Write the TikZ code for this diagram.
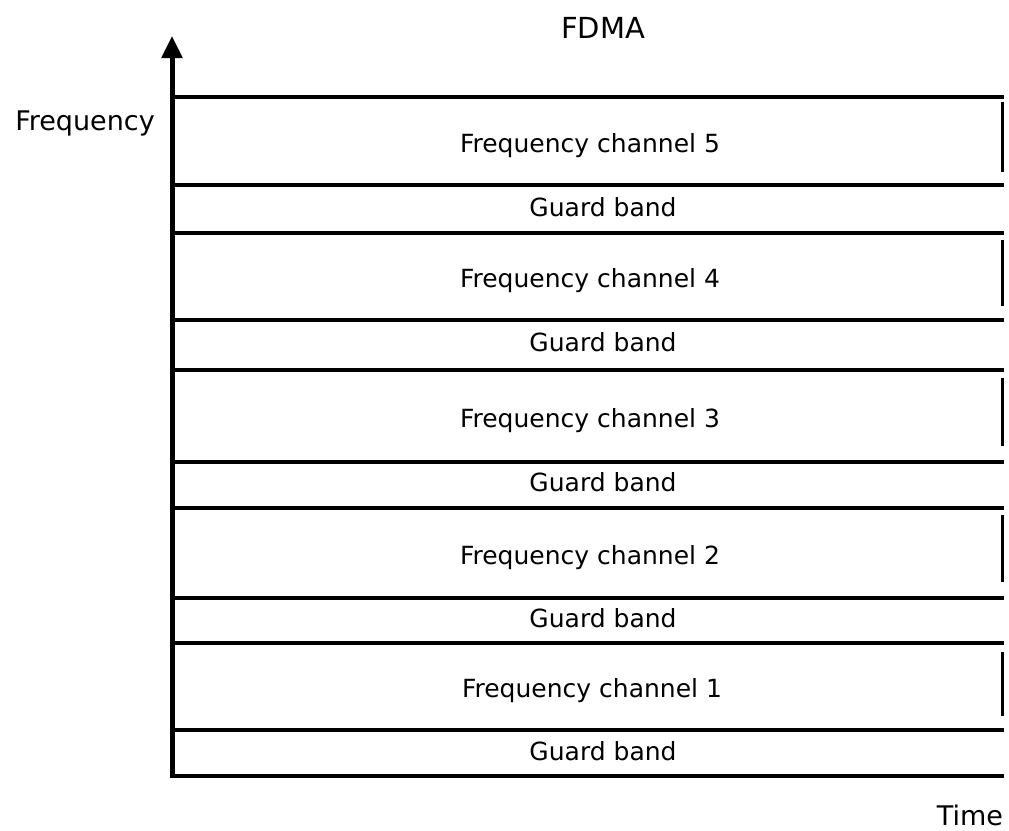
\documentclass[tikz,border=0pt]{standalone}
\usepackage{fontspec}
\setmainfont{DejaVu Sans}
\usetikzlibrary{arrows.meta}
\begin{document}
\begin{tikzpicture}[x=1pt,y=-1pt,
  boundary/.style={line width=4pt},
  edgemark/.style={line width=3pt},
  axisline/.style={line width=5pt,-{Triangle[width=20pt,length=22pt]}},
  chlabel/.style={anchor=base,inner sep=0pt,font=\fontsize{25}{30}\selectfont},
  gblabel/.style={anchor=base,inner sep=0pt,font=\fontsize{25}{30}\selectfont},
  title/.style={anchor=base,inner sep=0pt,font=\fontsize{29}{34}\selectfont},
  axislabel/.style={anchor=base,inner sep=0pt,font=\fontsize{27}{32}\selectfont}]
\useasboundingbox (0,0) rectangle (1009,830);

% band boundaries, from the frequency axis to the right edge
\foreach \y in {97,185,233,320,370,462,508,598,643,730,776}
  \draw[boundary] (171,\y) -- (1004,\y);

% short right-hand edges of the channel bands
\foreach \a/\b in {102/172,240/306,378/446,515/582,652/716}
  \draw[edgemark] (1002,\a) -- (1002,\b);

% frequency axis
\coordinate (origin) at (172,778);
\coordinate (ytop) at (172,36);
\draw[axisline] (origin) -- (ytop);

% channel and guard band labels
\node[chlabel] (ch5) at (590,152) {Frequency channel 5};
\node[gblabel] (g5)  at (603,216) {Guard band};
\node[chlabel] (ch4) at (590,287) {Frequency channel 4};
\node[gblabel] (g4)  at (603,351) {Guard band};
\node[chlabel] (ch3) at (590,427) {Frequency channel 3};
\node[gblabel] (g3)  at (603,491) {Guard band};
\node[chlabel] (ch2) at (590,564) {Frequency channel 2};
\node[gblabel] (g2)  at (603,627) {Guard band};
\node[chlabel] (ch1) at (592,697) {Frequency channel 1};
\node[gblabel] (g1)  at (603,760) {Guard band};

% title and axis names
\node[title] (fdma) at (603,38) {FDMA};
\node[axislabel] (freq) at (85,130) {Frequency};
\node[axislabel] (time) at (970,825) {Time};
\end{tikzpicture}
\end{document}
